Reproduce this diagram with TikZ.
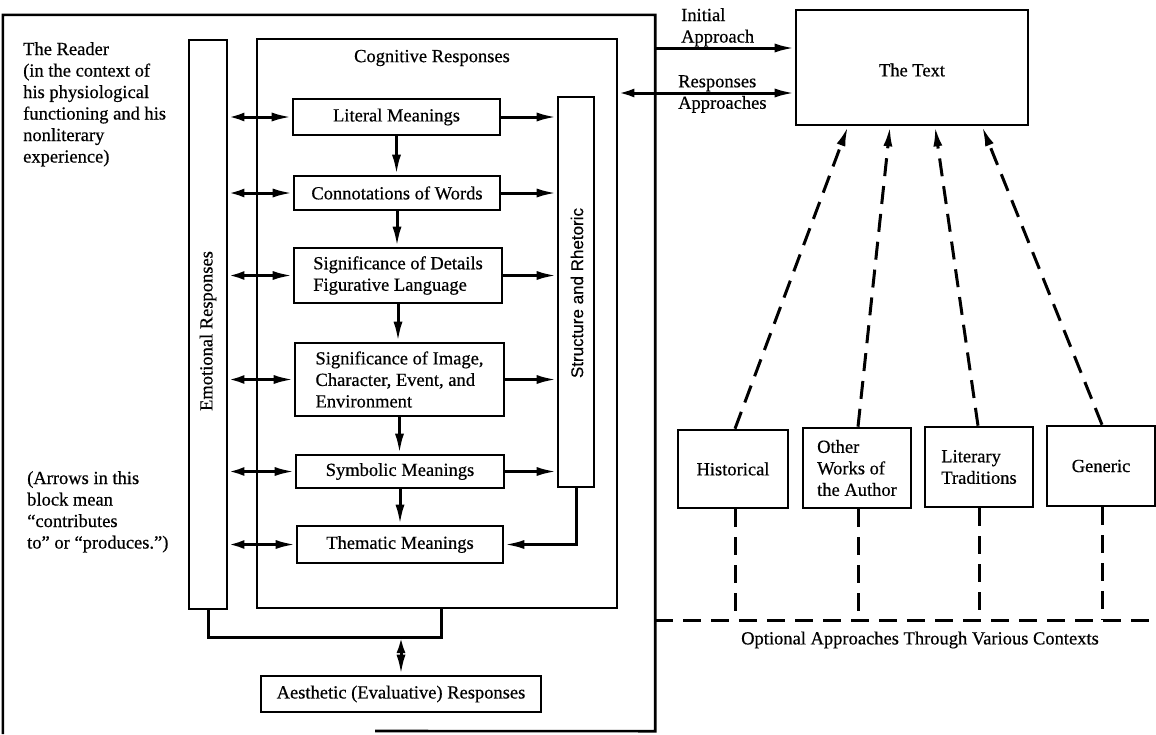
\documentclass[tikz,border=0pt]{standalone}
\usepackage{fontspec}
\setmainfont{Liberation Serif}[FakeBold=0.5]
\newfontfamily\sansf{Liberation Sans}[FakeBold=0.5]
\usetikzlibrary{arrows.meta}
\newcommand{\fnt}{\fontsize{18.5}{21.5}\selectfont}
\begin{document}
\begin{tikzpicture}[x=1pt,y=-1pt,
  box/.style={draw, line width=2.6pt, font=\fnt, inner sep=0pt, align=left},
  lbl/.style={font=\fnt, inner sep=0pt, align=left},
  ln/.style={line width=3pt},
  arr/.style={line width=3pt, -{Latex[length=20pt,width=9pt]}},
  dbl/.style={line width=3pt, {Latex[length=16pt,width=9pt]}-{Latex[length=20pt,width=9pt]}},
  dsh/.style={line width=3pt, dash pattern=on 18pt off 10pt},
  dsharr/.style={dsh, -{Latex[length=20pt,width=9pt]}}
]
\useasboundingbox (0,0) rectangle (1156,734);

% outer reader frame
\node[minimum width=652pt, minimum height=716pt, inner sep=0pt] (reader) at (329,373) {};
\draw[line width=2.6pt] (375,731) -- (reader.south east) -- (reader.north east) -- (reader.north west) -- (reader.south west |- 0,734);

% texts of reader
\node[lbl, anchor=north west] (rtxt) at (23,42) {The Reader\\(in the context of\\his physiological\\functioning and his\\nonliterary\\experience)};
\node[lbl, anchor=north west] (atxt) at (27,471) {(Arrows in this\\block mean\\``contributes\\to'' or ``produces.'')};

% bars and cognitive box
\node[box, minimum width=38pt, minimum height=569pt] (emo) at (208,324.5) {};
\node[lbl, rotate=90] (emolab) at (208,331) {Emotional Responses};
\node[box, minimum width=360pt, minimum height=569pt] (cog) at (437,323.5) {};
\node[lbl] (coglab) at (432,58) {Cognitive Responses};
\node[box, minimum width=36pt, minimum height=390pt] (str) at (576,292) {};
\node[lbl, rotate=90, font=\sansf\fontsize{17}{20}\selectfont] (strlab) at (577,293) {Structure and Rhetoric};

% inner boxes
\node[box, minimum width=207pt, minimum height=36pt] (lit) at (396.5,117) {Literal Meanings};
\node[box, minimum width=206pt, minimum height=34pt] (con) at (397,193) {Connotations of Words};
\node[box, minimum width=208pt, minimum height=55pt] (det) at (398,275.5) {Significance of Details\\Figurative Language};
\node[box, minimum width=209pt, minimum height=73pt] (img) at (399.5,379.5) {Significance of Image,\\Character, Event, and\\Environment};
\node[box, minimum width=208pt, minimum height=33pt] (sym) at (400,471.5) {Symbolic Meanings};
\node[box, minimum width=206pt, minimum height=37pt] (the) at (400,544.5) {Thematic Meanings};
\node[box, minimum width=280pt, minimum height=36pt] (aes) at (401,694) {Aesthetic (Evaluative) Responses};

% left double arrows
\foreach \n in {lit,con,det,img,sym,the}
  \draw[dbl] (emo.east |- \n.west) -- (\n.west);
% right arrows
\foreach \n in {lit,con,det,img,sym}
  \draw[arr] (\n.east) -- (str.west |- \n.east);
% down arrows
\draw[arr] (lit.south) -- (lit.south |- con.north);
\draw[arr] (con.south) -- (con.south |- det.north);
\draw[arr] (det.south) -- (det.south |- img.north);
\draw[arr] (img.south) -- (img.south |- sym.north);
\draw[arr] (sym.south) -- (sym.south |- the.north);
% structure to thematic
\draw[arr] (str.south) |- (the.east);

% bottom connector
\coordinate (jc) at (cog.south -| 441,0);
\coordinate (jb) at (441,637);
\draw[ln] (emo.south) |- (jb) -- (jc);
\draw[dbl] (aes.north |- jb) -- (aes.north);

% the text
\node[box, minimum width=232pt, minimum height=115pt] (text) at (912,67.5) {};
\node[lbl] (textlab) at (912,70) {The Text};
\draw[arr] (reader.east |- 0,48) -- (text.west |- 0,48);
\draw[dbl] (cog.east |- 0,93) -- (text.west |- 0,93);
\node[lbl, anchor=north west] (ia) at (681,8) {Initial\\Approach};
\node[lbl, anchor=north west] (ra) at (678,75) {Responses\\Approaches};

% context boxes
\node[box, minimum width=110pt, minimum height=78pt] (his) at (733,469) {Historical};
\node[box, minimum width=108pt, minimum height=80pt] (oth) at (857,468) {Other\\Works of\\the Author};
\node[box, minimum width=108pt, minimum height=80pt] (ltr) at (979,467) {Literary\\Traditions};
\node[box, minimum width=108pt, minimum height=80pt] (gen) at (1101,466) {Generic};

\draw[dsharr] (his.north -| 735,0) -- (text.south -| 848,0);
\draw[dsharr] (oth.north -| 858,0) -- (text.south -| 890,0);
\draw[dsharr] (ltr.north -| 978,0) -- (text.south -| 935,0);
\draw[dsharr] (gen.north -| 1102,0) -- (text.south -| 982,0);

\coordinate (hend) at (1158,620);
\draw[dsh] (reader.east |- hend) -- (hend);
\draw[dsh] (his.south -| 735,0) -- (735,620);
\draw[dsh] (oth.south -| 858,0) -- (858,620);
\draw[dsh] (ltr.south -| 979,0) -- (979,620);
\draw[dsh] (gen.south -| 1102,0) -- (1102,620);
\node[lbl] (opt) at (920,640) {Optional Approaches Through Various Contexts};
\end{tikzpicture}
\end{document}
